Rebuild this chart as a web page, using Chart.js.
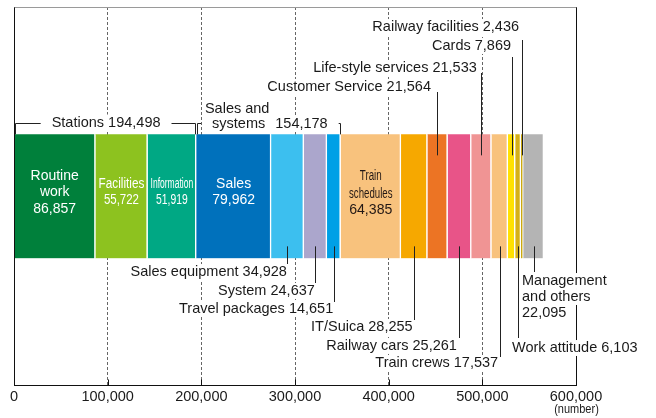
<!DOCTYPE html>
<html>
<head>
<meta charset="utf-8">
<script src="https://cdn.jsdelivr.net/npm/chart.js@4.4.1/dist/chart.umd.min.js"></script>
<style>
html,body{margin:0;padding:0;background:#fff;}
#wrap{width:656px;height:418px;}
</style>
</head>
<body>
<div id="wrap"><canvas id="c" width="656" height="418"></canvas></div>
<script>
// ---- data ----
const categories = ['Routine work','Facilities','Information','Sales','Sales equipment','System','Travel packages',
  'Train schedules','IT/Suica','Customer Service','Railway cars','Life-style services','Train crews','Cards',
  'Work attitude','Railway facilities','Management and others'];
const values = [86857,55722,51919,79962,34928,24637,14651,64385,28255,21564,25261,21533,17537,7869,6103,2436,22095];
const colors = ['#00803b','#8dc21f','#00a884','#0071bc','#3cbfef','#aba6cc','#00a0e6','#f8c27d','#f6a800',
  '#ec7424','#e85488','#f09494','#f8c27d','#ffe100','#d5b017','#c8a400','#b4b4b4'];
const groupNames = ['Stations','Sales and systems'];
const groupTotals = [194498,154178];
const groupFirst = [0,3];
const groupCount = [3,4];
const xTickValues = [0,100000,200000,300000,400000,500000,600000];
const unitLabel = '(number)';

// ---- layout of annotations (text placement only) ----
const FONT = "'Liberation Sans', Arial, Helvetica, sans-serif";
const fmt = v => v.toLocaleString('en-US');
const outsideLabels = [
  {i:15, align:'right', dx:-3,    ty:27,  ly:40},
  {i:13, align:'right', dx:-0.5,  ty:46,  ly:57},
  {i:11, align:'right', dx:-4.5,  ty:68,  ly:73},
  {i:9,  align:'right', dx:-6.5,  ty:87,  ly:92},
  {i:4,  align:'right', dx:-0.5,  ty:272, ly:264},
  {i:5,  align:'right', dx:-0.5,  ty:291, ly:283},
  {i:6,  align:'right', dx:-0.5,  ty:309, ly:302},
  {i:8,  align:'right', dx:-1.5,  ty:327, ly:320},
  {i:10, align:'right', dx:-2.5,  ty:346, ly:338},
  {i:12, align:'right', dx:-1.5,  ty:363, ly:357},
  {i:14, align:'left',  dx:-6,    ty:348, ly:338},
  {i:16, align:'left',  dx:-11.5, ty:281, ly:272, lines:['Management','and others'], lh:16}
];
const innerLabels = [
  {i:0, lines:['Routine','work'], ys:[176,192.5,209], sx:[1,1,1], color:'#ffffff', sizes:[14,14,14]},
  {i:1, lines:['Facilities'], ys:[184,200.5], sx:[0.84,0.82], color:'#ffffff', sizes:[14,14]},
  {i:2, lines:['Information'], ys:[184,200.5], sx:[0.61,0.74], color:'#ffffff', sizes:[14,14]},
  {i:3, lines:['Sales'], ys:[184,200.5], sx:[1,1], color:'#ffffff', sizes:[14,14]},
  {i:7, lines:['Train','schedules'], ys:[176.5,194,209.5], sx:[0.7,0.69,0.94], color:'#231815', sizes:[14,14,15]}
];

const cum = [];
(function(){ let s = 0; values.forEach(v => { cum.push(s); s += v; }); })();

const annotate = {
  id: 'annotate',
  afterDatasetsDraw(chart) {
    const ctx = chart.ctx, xs = chart.scales.x, area = chart.chartArea;
    const bar = chart.getDatasetMeta(0).data[0];
    const barTop = bar.y - bar.height / 2, barBot = bar.y + bar.height / 2;
    const px = v => xs.getPixelForValue(v);
    const mid = i => px(cum[i] + values[i] / 2);
    const ink = '#1a1a1a';

    function txt(s, x, y, o) {
      o = o || {};
      const size = o.size || 14.5, sx = o.sx || 1, align = o.align || 'left';
      ctx.font = size + 'px ' + FONT;
      const w = ctx.measureText(s).width * sx;
      const left = align === 'left' ? x : (align === 'right' ? x - w : x - w / 2);
      if (o.bg) { ctx.fillStyle = '#fff'; ctx.fillRect(left - 2, y - size * 0.55, w + 4, size * 1.1); }
      ctx.save();
      ctx.translate(left, y); ctx.scale(sx, 1);
      ctx.fillStyle = o.color || ink; ctx.textAlign = 'left'; ctx.textBaseline = 'middle';
      ctx.fillText(s, 0, 0);
      ctx.restore();
      return {left: left, right: left + w, w: w};
    }
    function line(x1, y1, x2, y2, color, lw) {
      ctx.beginPath(); ctx.strokeStyle = color || ink; ctx.lineWidth = lw || 1;
      ctx.moveTo(x1, y1); ctx.lineTo(x2, y2); ctx.stroke();
    }

    ctx.save();
    // frame
    const L = Math.round(area.left) + 0.5, R = Math.round(area.right) + 0.5;
    const T = Math.round(area.top) + 0.5, B = Math.round(area.bottom) - 0.5;
    line(L, T, R, T, '#9a9a9a', 1.2);
    line(L, T, L, B + 0.5, '#111');
    line(R, T, R, B + 0.5, '#111');
    line(L - 0.5, B, R + 0.5, B, '#111');
    xTickValues.forEach(v => { const x = Math.round(px(v)) + 0.5; line(x, B, x, B - 6, '#111'); });

    // outside labels
    outsideLabels.forEach(lb => {
      const x = mid(lb.i) + lb.dx;
      if (lb.lines) {
        const all = lb.lines.concat([fmt(values[lb.i])]);
        all.forEach((s, k) => txt(s, x, lb.ty + k * lb.lh, {align: lb.align, bg: true}));
      } else {
        txt(categories[lb.i] + ' ' + fmt(values[lb.i]), x, lb.ty, {align: lb.align, bg: true});
      }
    });

    // leaders
    outsideLabels.forEach(lb => {
      const x = Math.round(mid(lb.i)) + 0.5;
      if (lb.ty < barTop) line(x, lb.ly, x, barTop + 21, '#222');
      else line(x, barBot - 12, x, lb.ly, '#222');
    });

    // labels inside the bar
    innerLabels.forEach(lb => {
      const x = mid(lb.i);
      const all = lb.lines.concat([fmt(values[lb.i])]);
      all.forEach((s, k) => txt(s, x, lb.ys[k], {align: 'center', sx: lb.sx[k], color: lb.color, size: lb.sizes[k]}));
    });

    // group brackets
    const bracketY = Math.round(barTop) - 11 + 0.5;
    groupNames.forEach((g, gi) => {
      const a = px(cum[groupFirst[gi]]), e = px(cum[groupFirst[gi] + groupCount[gi] - 1] + values[groupFirst[gi] + groupCount[gi] - 1]);
      const x1 = Math.round(a) + 1.5, x2 = Math.round(e) - 0.5;
      const c = (a + e) / 2;
      let tl, tr;
      if (gi === 0) {
        const r = txt(g + ' ' + fmt(groupTotals[gi]), c + 1, bracketY - 1, {align: 'center', bg: true});
        tl = r.left; tr = r.right;
      } else {
        ctx.font = '14.5px ' + FONT;
        const w1 = ctx.measureText('systems').width, w2 = ctx.measureText(fmt(groupTotals[gi])).width, gap = 10;
        const left = c - (w1 + gap + w2) / 2 + 1.5;
        txt('Sales and', left + w1 / 2 - 1.5, bracketY - 14.5, {align: 'center', bg: true});
        txt('systems', left, bracketY, {bg: true});
        txt(fmt(groupTotals[gi]), left + w1 + gap, bracketY, {bg: true});
        tl = left; tr = left + w1 + gap + w2;
      }
      line(x1, bracketY, tl - 11, bracketY, '#222');
      line(tr + 11, bracketY, x2, bracketY, '#222');
      line(x1, bracketY, x1, barTop, '#222');
      line(x2, bracketY, x2, barTop, '#222');
    });

    // unit
    txt(unitLabel, R, 410, {align: 'center', size: 12.5, sx: 0.88});
    ctx.restore();
  }
};

new Chart(document.getElementById('c'), {
  type: 'bar',
  data: {
    labels: [''],
    datasets: categories.map((c, i) => ({
      label: c,
      data: [values[i]],
      backgroundColor: colors[i],
      borderColor: '#ffffff',
      borderWidth: {left: 0, right: 1.5, top: 0, bottom: 0},
      borderSkipped: false,
      barThickness: 124
    }))
  },
  options: {
    indexAxis: 'y',
    responsive: false,
    animation: false,
    devicePixelRatio: 1,
    layout: {padding: {left: 14, right: 80, top: 7, bottom: 10.3}},
    plugins: {legend: {display: false}, tooltip: {enabled: false}},
    scales: {
      x: {
        type: 'linear', stacked: true, min: 0, max: 600000,
        afterBuildTicks: s => { s.ticks = xTickValues.map(v => ({value: v})); },
        ticks: {callback: v => fmt(v), color: '#1a1a1a', padding: 2.3, maxRotation: 0, autoSkip: false,
                font: {family: FONT, size: 14.5}},
        grid: {color: '#666', lineWidth: 1, drawTicks: false},
        border: {display: false, dash: [3, 2]}
      },
      y: {stacked: true, display: false}
    }
  },
  plugins: [annotate]
});
</script>
</body>
</html>
